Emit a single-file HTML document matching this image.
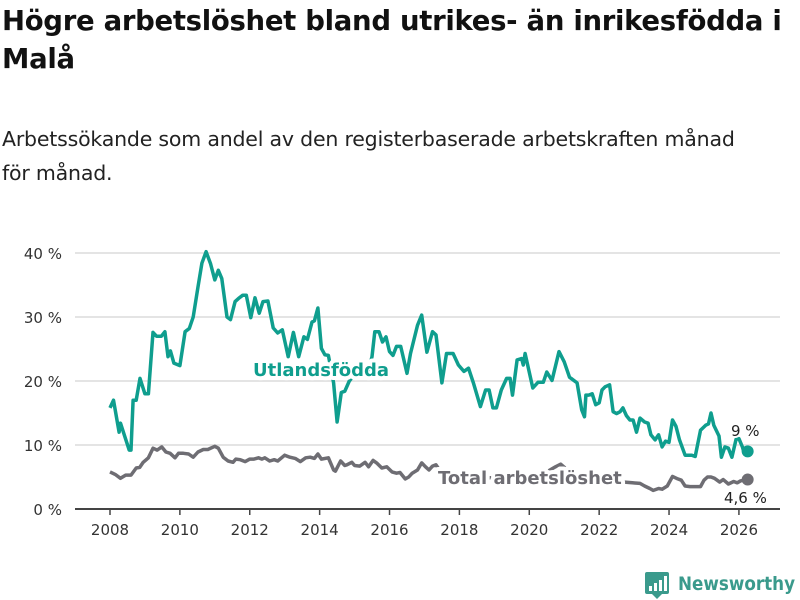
<!DOCTYPE html>
<html><head><meta charset="utf-8">
<style>
body{margin:0;width:800px;height:600px;background:#fff;font-family:"Liberation Sans","DejaVu Sans",sans-serif;overflow:hidden;position:relative}
h1{position:absolute;left:2px;top:2px;margin:0;font-size:27.5px;line-height:38px;font-weight:bold;color:#111;width:798px;font-family:"DejaVu Sans",sans-serif;letter-spacing:-0.3px}
p{position:absolute;left:2px;top:122px;margin:0;font-size:20.5px;line-height:34px;color:#222;width:798px;font-family:"DejaVu Sans",sans-serif;letter-spacing:-0.2px;white-space:nowrap}
svg{position:absolute;left:0;top:0}
</style></head><body>
<h1>Högre arbetslöshet bland utrikes- än inrikesfödda i Malå</h1>
<p>Arbetssökande som andel av den registerbaserade arbetskraften månad<br>för månad.</p>
<svg id="chart" width="800" height="600"></svg>
<script>
const yTicks=[0,10,20,30,40];
const xTicks=[2008,2010,2012,2014,2016,2018,2020,2022,2024,2026];
const foreignDates=[2008.0,2008.1,2008.26,2008.3,2008.55,2008.6,2008.66,2008.75,2008.86,2009.0,2009.1,2009.23,2009.33,2009.47,2009.57,2009.66,2009.73,2009.83,2010.0,2010.15,2010.27,2010.38,2010.52,2010.63,2010.75,2010.88,2011.0,2011.1,2011.2,2011.35,2011.45,2011.58,2011.68,2011.8,2011.9,2012.03,2012.15,2012.27,2012.38,2012.52,2012.67,2012.8,2012.93,2013.1,2013.25,2013.4,2013.55,2013.65,2013.78,2013.85,2013.95,2014.05,2014.15,2014.25,2014.4,2014.5,2014.62,2014.72,2014.85,2015.0,2015.2,2015.4,2015.5,2015.58,2015.7,2015.8,2015.9,2016.0,2016.1,2016.2,2016.32,2016.5,2016.6,2016.8,2016.92,2017.07,2017.23,2017.33,2017.5,2017.63,2017.82,2017.97,2018.13,2018.26,2018.4,2018.6,2018.75,2018.85,2018.96,2019.06,2019.2,2019.35,2019.45,2019.52,2019.65,2019.78,2019.83,2019.88,2020.1,2020.25,2020.4,2020.5,2020.65,2020.85,2021.0,2021.15,2021.37,2021.5,2021.58,2021.62,2021.7,2021.8,2021.9,2022.0,2022.08,2022.17,2022.3,2022.4,2022.5,2022.6,2022.68,2022.78,2022.88,2022.97,2023.07,2023.17,2023.3,2023.4,2023.48,2023.6,2023.7,2023.8,2023.9,2024.0,2024.1,2024.2,2024.3,2024.46,2024.56,2024.65,2024.75,2024.9,2025.05,2025.13,2025.2,2025.28,2025.43,2025.5,2025.6,2025.7,2025.8,2025.92,2026.0,2026.1,2026.15,2026.25];
const foreignValues=[15.8,17,12,13.4,9.2,9.2,17,17,20.4,18,18,27.6,27,27,27.7,23.8,24.7,22.8,22.4,27.7,28.2,30,34.7,38.4,40.2,38.3,35.8,37.3,36,30,29.6,32.4,32.9,33.4,33.4,29.9,33,30.6,32.4,32.5,28.3,27.5,28,23.8,27.6,23.8,26.9,26.5,29.2,29.4,31.4,25.1,24.1,24,19.7,13.6,18.2,18.4,20,21,21.3,21.8,23.8,27.7,27.7,26.1,26.9,24.6,24,25.4,25.4,21.2,24.3,28.7,30.3,24.5,27.7,27.2,19.7,24.3,24.3,22.5,21.5,22,19.7,16,18.6,18.6,15.8,15.8,18.6,20.4,20.4,17.8,23.3,23.5,22.5,24.3,18.9,19.8,19.8,21.4,20.1,24.6,23,20.6,19.7,15.5,14.4,17.8,17.8,18,16.3,16.6,18.6,19.1,19.4,15.2,14.9,15.2,15.8,14.6,13.9,13.9,12,14.2,13.6,13.4,11.6,10.8,11.6,9.7,10.6,10.4,13.9,12.9,10.8,8.4,8.4,8.4,8.2,12.3,13.1,13.3,15,13.1,11.4,8.1,9.7,9.5,8.1,10.9,11,9.7,8.7,9];
const totalDates=[2008.0,2008.15,2008.3,2008.45,2008.6,2008.75,2008.85,2008.95,2009.1,2009.23,2009.35,2009.48,2009.6,2009.72,2009.86,2009.96,2010.1,2010.25,2010.38,2010.52,2010.67,2010.8,2011.0,2011.1,2011.24,2011.38,2011.52,2011.6,2011.73,2011.87,2012.0,2012.12,2012.25,2012.35,2012.43,2012.57,2012.7,2012.8,2013.0,2013.15,2013.3,2013.45,2013.6,2013.73,2013.85,2013.95,2014.05,2014.25,2014.4,2014.45,2014.6,2014.72,2014.78,2014.92,2015.0,2015.15,2015.3,2015.4,2015.53,2015.63,2015.78,2015.92,2016.07,2016.2,2016.3,2016.45,2016.55,2016.65,2016.8,2016.92,2017.03,2017.13,2017.23,2017.33,2017.5,2018.0,2018.5,2019.0,2019.5,2020.0,2020.5,2020.75,2020.9,2021.2,2021.6,2022.0,2022.5,2022.95,2023.17,2023.3,2023.45,2023.55,2023.7,2023.8,2023.95,2024.1,2024.25,2024.35,2024.46,2024.6,2024.75,2024.9,2025.0,2025.1,2025.2,2025.3,2025.45,2025.55,2025.7,2025.85,2025.95,2026.05,2026.25];
const totalValues=[5.8,5.4,4.8,5.3,5.3,6.4,6.5,7.3,8,9.5,9.2,9.7,8.9,8.7,8,8.7,8.7,8.6,8.1,8.9,9.3,9.3,9.8,9.5,8.1,7.5,7.3,7.8,7.7,7.4,7.8,7.8,8,7.8,8,7.5,7.7,7.5,8.4,8.1,7.9,7.4,8,8.1,7.9,8.6,7.8,8,6.1,5.9,7.5,6.8,6.9,7.3,6.8,6.7,7.3,6.6,7.6,7.2,6.4,6.6,5.8,5.6,5.7,4.7,5,5.6,6.1,7.2,6.6,6.1,6.7,6.9,5.5,5,4.8,4.9,5.2,5.4,5.8,6.6,7,5.6,5,4.6,4.3,4.1,4,3.6,3.2,2.9,3.2,3.1,3.6,5.1,4.7,4.5,3.6,3.5,3.5,3.5,4.5,5,5,4.8,4.2,4.6,3.9,4.3,4.1,4.4,4.6];
const X=y=>110+(y-2008)*34.94, Y=v=>509-v*6.4;
const NS="http://www.w3.org/2000/svg", svg=document.getElementById('chart');
function mk(t,a,p){const e=document.createElementNS(NS,t);for(const k in a)e.setAttribute(k,a[k]);(p||svg).appendChild(e);return e;}
yTicks.forEach(t=>{
 if(t>0){const g=mk('line',{x1:75,x2:780,y1:Y(t),y2:Y(t),stroke:'#dcdcdc','stroke-width':1.5});
 
 }
 const l=mk('text',{x:62,y:Y(t)+6,'text-anchor':'end','font-size':15,fill:'#333','font-family':'DejaVu Sans, sans-serif'});
 l.textContent=t+' %';
 
 
});
const ax=mk('line',{x1:75,x2:780,y1:509,y2:509,stroke:'#444','stroke-width':2});


xTicks.forEach(t=>{
 mk('line',{x1:X(t),x2:X(t),y1:509,y2:515,stroke:'#444','stroke-width':1.5});
 const l=mk('text',{x:X(t),y:535,'text-anchor':'middle','font-size':15,fill:'#333','font-family':'DejaVu Sans, sans-serif'});
 l.textContent=t;
 
 
});
function path(d,v){return d.map((x,i)=>(i?'L':'M')+X(x).toFixed(1)+','+Y(v[i]).toFixed(1)).join('');}
const tl=mk('path',{d:path(totalDates,totalValues),fill:'none',stroke:'#6e6d73','stroke-width':3.5,'stroke-linejoin':'round'});


const fl=mk('path',{d:path(foreignDates,foreignValues),fill:'none',stroke:'#0f9e8e','stroke-width':3.5,'stroke-linejoin':'round'});


const fe=foreignDates.length-1, te=totalDates.length-1;
const d1=mk('circle',{cx:X(foreignDates[fe]),cy:Y(foreignValues[fe]),r:6,fill:'#0f9e8e'});


const d2=mk('circle',{cx:X(totalDates[te]),cy:Y(totalValues[te]),r:6,fill:'#6e6d73'});


function lab(txt,x,y,fill,name,size,bold,sw){
 const t=mk('text',{x:x,y:y,'font-size':size,fill:fill,'font-weight':bold?'bold':'normal',stroke:'#fff','stroke-width':sw,'paint-order':'stroke','stroke-linejoin':'round','font-family':'DejaVu Sans, sans-serif'});
 t.textContent=txt;
 
 
}
lab('Utlandsfödda',253,376,'#0f9e8e','foreign-born-label',18,true,8);
lab('Total arbetslöshet',438,484,'#6e6d73','total-label',18,true,8);
lab('9 %',731,436,'#222','foreign-born-end-value',15,false,4);
lab('4,6 %',724,503,'#222','total-end-value',15,false,4);
const g=mk('g',{});


mk('rect',{x:645,y:572,width:24,height:22,rx:2,fill:'#3a9a8c'},g);
mk('polygon',{points:'652,594 662,594 657,599',fill:'#3a9a8c'},g);
[[649,586,3,5],[654,583,3,8],[659,580,3,11],[664,576,3,15]].forEach(r=>mk('rect',{x:r[0],y:r[1],width:r[2],height:r[3],fill:'#fff'},g));
const lt=mk('text',{x:678,y:590,'font-size':19,'font-weight':'bold',fill:'#3a9a8c','font-family':'DejaVu Sans, sans-serif',textLength:117,lengthAdjust:'spacingAndGlyphs'},g);
lt.textContent='Newsworthy';
</script>
</body></html>
